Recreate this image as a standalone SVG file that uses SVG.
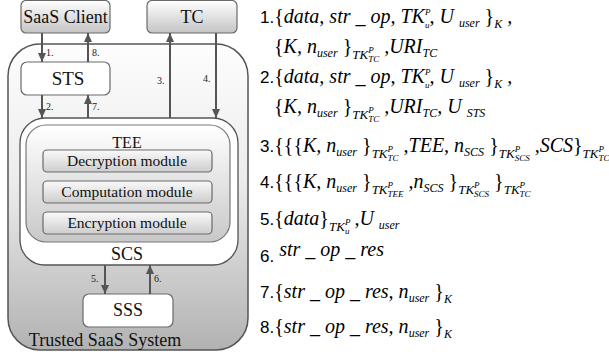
<svg xmlns="http://www.w3.org/2000/svg" width="609" height="358" viewBox="0 0 609 358">
<defs>
<linearGradient id="gOuter" x1="0" y1="0" x2="0" y2="1">
<stop offset="0" stop-color="#fdfdfd"/><stop offset="0.45" stop-color="#ececec"/><stop offset="1" stop-color="#b2b2b2"/>
</linearGradient>
<linearGradient id="gBox" x1="0" y1="0" x2="0" y2="1">
<stop offset="0" stop-color="#ffffff"/><stop offset="1" stop-color="#c4c4c4"/>
</linearGradient>
<linearGradient id="gTee" x1="0" y1="0" x2="0" y2="1">
<stop offset="0" stop-color="#ffffff"/><stop offset="1" stop-color="#c8c8c8"/>
</linearGradient>
<linearGradient id="gMod" x1="0" y1="0" x2="0" y2="1">
<stop offset="0" stop-color="#fafafa"/><stop offset="1" stop-color="#cdcdcd"/>
</linearGradient>
<marker id="arr" markerUnits="userSpaceOnUse" markerWidth="9" markerHeight="8" refX="9" refY="4" orient="auto">
<path d="M0,0 L9,4 L0,8 z" fill="#555"/>
</marker>
</defs>
<style>
.lbl{font-family:"Liberation Serif","DejaVu Serif",serif;fill:#111;text-anchor:middle}
.al{font-family:"Liberation Serif","DejaVu Serif",serif;font-size:10px;fill:#222}
.edge{stroke:#555;stroke-width:2;fill:none;marker-end:url(#arr)}
.box{stroke:#6a6a6a;stroke-width:1.2}
.m{font-family:"Liberation Serif","DejaVu Serif",serif;font-style:italic;font-size:20px;fill:#000}
.n{font-family:"Liberation Sans","DejaVu Sans",sans-serif;font-style:normal;font-size:17px}
.u{font-style:normal}
.s{font-size:12px}
.t{font-size:13px}
.ss{font-size:9px}
</style>

<g id="system">
<rect x="8" y="44" width="240" height="306" rx="32" ry="32" fill="url(#gOuter)" stroke="#555" stroke-width="1.5"/>
<text class="lbl" x="105" y="346" font-size="18">Trusted SaaS System</text>
</g>

<g id="saas-client">
<rect class="box" x="21" y="0.5" width="89" height="32.5" rx="5" fill="url(#gBox)"/>
<text class="lbl" x="65.5" y="23" font-size="18">SaaS Client</text>
</g>

<g id="tc">
<rect class="box" x="147" y="0.5" width="90" height="32.5" rx="5" fill="url(#gBox)"/>
<text class="lbl" x="192" y="23" font-size="18">TC</text>
</g>

<g id="sts">
<rect class="box" x="21" y="62" width="89" height="33" rx="6" fill="#fff"/>
<text class="lbl" x="68" y="85" font-size="19">STS</text>
</g>

<g id="scs">
<rect x="20" y="118" width="218" height="147" rx="25" ry="25" fill="#fff" stroke="#555" stroke-width="1.3"/>
<text class="lbl" x="127" y="260" font-size="18">SCS</text>
</g>

<g id="tee">
<rect x="26" y="125" width="204" height="117" rx="20" ry="20" fill="url(#gTee)" stroke="#777" stroke-width="1.2"/>
<text class="lbl" x="127" y="148" font-size="16">TEE</text>
</g>

<g id="decryption">
<rect class="box" x="43" y="150" width="169" height="22" rx="4" fill="url(#gMod)"/>
<text class="lbl" x="127" y="166" font-size="15.5">Decryption module</text>
</g>

<g id="computation">
<rect class="box" x="43" y="181" width="169" height="22" rx="4" fill="url(#gMod)"/>
<text class="lbl" x="127" y="197" font-size="15.5">Computation module</text>
</g>

<g id="encryption">
<rect class="box" x="43" y="212" width="169" height="22" rx="4" fill="url(#gMod)"/>
<text class="lbl" x="127" y="228" font-size="15.5">Encryption module</text>
</g>

<g id="sss">
<rect class="box" x="83" y="294" width="90" height="33" rx="6" fill="#fff"/>
<text class="lbl" x="128" y="316" font-size="18">SSS</text>
</g>

<g id="connectors">
<line class="edge" x1="42" y1="33" x2="42" y2="62"/>
<line class="edge" x1="88" y1="62" x2="88" y2="33"/>
<line class="edge" x1="42" y1="95" x2="42" y2="118"/>
<line class="edge" x1="88" y1="118" x2="88" y2="95"/>
<line class="edge" x1="170" y1="118" x2="170" y2="33"/>
<line class="edge" x1="216" y1="33" x2="216" y2="118"/>
<line class="edge" x1="105" y1="265" x2="105" y2="294"/>
<line class="edge" x1="150" y1="294" x2="150" y2="265"/>
<text class="al" x="46" y="56">1.</text>
<text class="al" x="92" y="56">8.</text>
<text class="al" x="46" y="110">2.</text>
<text class="al" x="92" y="110">7.</text>
<text class="al" x="157" y="84">3.</text>
<text class="al" x="203" y="82">4.</text>
<text class="al" x="91" y="282">5.</text>
<text class="al" x="154" y="282">6.</text>
</g>

<g id="messages">
<text class="m" x="260" y="23"><tspan class="n">1.</tspan><tspan class="u">{</tspan>data, str _ op, TK<tspan class="ss" dy="-8">P</tspan><tspan class="ss" dx="-5.5" dy="13">u</tspan><tspan dy="-5">, U </tspan><tspan class="s" dy="4">user</tspan><tspan class="u" dy="-4"> }</tspan><tspan class="s" dy="5">K</tspan><tspan dy="-5"> ,</tspan></text>
<text class="m" x="274" y="53"><tspan class="u">{</tspan>K, n<tspan class="s" dy="4">user</tspan><tspan class="u" dy="-4"> }</tspan><tspan class="t" dy="6">TK</tspan><tspan class="ss" dy="-6">P</tspan><tspan class="ss" dx="-5.5" dy="9">TC</tspan><tspan dy="-9"> ,URI</tspan><tspan class="s" dy="4">TC</tspan></text>
<text class="m" x="260" y="83"><tspan class="n">2.</tspan><tspan class="u">{</tspan>data, str _ op, TK<tspan class="ss" dy="-8">P</tspan><tspan class="ss" dx="-5.5" dy="13">u</tspan><tspan dy="-5">, U </tspan><tspan class="s" dy="4">user</tspan><tspan class="u" dy="-4"> }</tspan><tspan class="s" dy="5">K</tspan><tspan dy="-5"> ,</tspan></text>
<text class="m" x="274" y="113"><tspan class="u">{</tspan>K, n<tspan class="s" dy="4">user</tspan><tspan class="u" dy="-4"> }</tspan><tspan class="t" dy="6">TK</tspan><tspan class="ss" dy="-6">P</tspan><tspan class="ss" dx="-5.5" dy="9">TC</tspan><tspan dy="-9"> ,URI</tspan><tspan class="s" dy="4">TC</tspan><tspan dy="-4">, U </tspan><tspan class="s" dy="4">STS</tspan></text>
<text class="m" x="260" y="152"><tspan class="n">3.</tspan><tspan class="u">{{{</tspan>K, n<tspan class="s" dy="4">user</tspan><tspan class="u" dy="-4"> }</tspan><tspan class="t" dy="6">TK</tspan><tspan class="ss" dy="-6">P</tspan><tspan class="ss" dx="-5.5" dy="9">TC</tspan><tspan dy="-9"> ,TEE, n</tspan><tspan class="s" dy="4">SCS</tspan><tspan class="u" dy="-4"> }</tspan><tspan class="t" dy="6">TK</tspan><tspan class="ss" dy="-6">P</tspan><tspan class="ss" dx="-5.5" dy="9">SCS</tspan><tspan dy="-9"> ,SCS</tspan><tspan class="u">}</tspan><tspan class="t" dy="6">TK</tspan><tspan class="ss" dy="-6">P</tspan><tspan class="ss" dx="-5.5" dy="9">TC</tspan></text>
<text class="m" x="260" y="188"><tspan class="n">4.</tspan><tspan class="u">{{{</tspan>K, n<tspan class="s" dy="4">user</tspan><tspan class="u" dy="-4"> }</tspan><tspan class="t" dy="6">TK</tspan><tspan class="ss" dy="-6">P</tspan><tspan class="ss" dx="-5.5" dy="9">TEE</tspan><tspan dy="-9"> ,n</tspan><tspan class="s" dy="4">SCS</tspan><tspan class="u" dy="-4"> }</tspan><tspan class="t" dy="6">TK</tspan><tspan class="ss" dy="-6">P</tspan><tspan class="ss" dx="-5.5" dy="9">SCS</tspan><tspan class="u" dy="-9"> }</tspan><tspan class="t" dy="6">TK</tspan><tspan class="ss" dy="-6">P</tspan><tspan class="ss" dx="-5.5" dy="9">TC</tspan></text>
<text class="m" x="260" y="225"><tspan class="n">5.</tspan><tspan class="u">{</tspan>data<tspan class="u">}</tspan><tspan class="t" dy="6">TK</tspan><tspan class="ss" dy="-6">P</tspan><tspan class="ss" dx="-5.5" dy="9">u</tspan><tspan dy="-9"> ,U </tspan><tspan class="s" dy="4">user</tspan></text>
<text class="m" x="260" y="262"><tspan class="n">6.</tspan><tspan dy="-6"> str _ op _ res</tspan></text>
<text class="m" x="260" y="298"><tspan class="n">7.</tspan><tspan class="u">{</tspan>str _ op _ res, n<tspan class="s" dy="4">user</tspan><tspan class="u" dy="-4"> }</tspan><tspan class="s" dy="5">K</tspan></text>
<text class="m" x="260" y="333"><tspan class="n">8.</tspan><tspan class="u">{</tspan>str _ op _ res, n<tspan class="s" dy="4">user</tspan><tspan class="u" dy="-4"> }</tspan><tspan class="s" dy="5">K</tspan></text>
</g>
</svg>
